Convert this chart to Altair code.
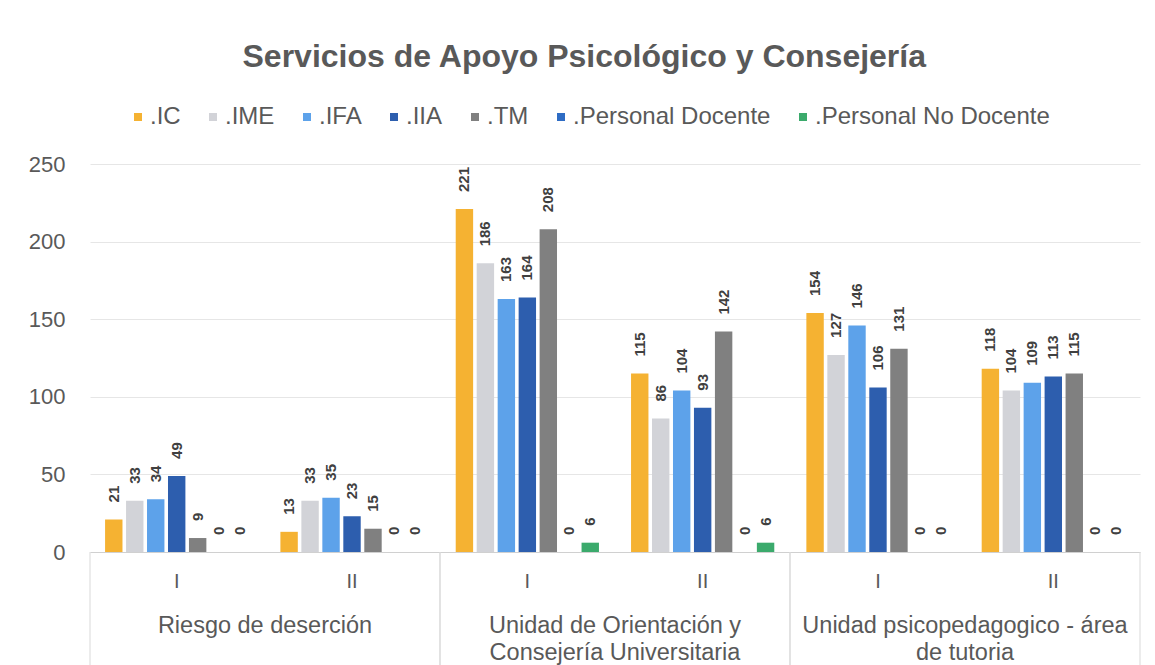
import altair as alt
import pandas as pd

categories = [
    "Riesgo de deserción",
    "Unidad de Orientación y\nConsejería Universitaria",
    "Unidad psicopedagogico - área\nde tutoria",
]
semesters = ["I", "II"]
series = [".IC", ".IME", ".IFA", ".IIA", ".TM", ".Personal Docente", ".Personal No Docente"]
colors = ["#F5B232", "#D2D3D8", "#5DA2EA", "#2D5EAE", "#808080", "#2E6CC4", "#3BAA6C"]

riesgo_I = [21, 33, 34, 49, 9, 0, 0]
riesgo_II = [13, 33, 35, 23, 15, 0, 0]
orientacion_I = [221, 186, 163, 164, 208, 0, 6]
orientacion_II = [115, 86, 104, 93, 142, 0, 6]
psicoped_I = [154, 127, 146, 106, 131, 0, 0]
psicoped_II = [118, 104, 109, 113, 115, 0, 0]

groups = [
    (categories[0], "I", riesgo_I),
    (categories[0], "II", riesgo_II),
    (categories[1], "I", orientacion_I),
    (categories[1], "II", orientacion_II),
    (categories[2], "I", psicoped_I),
    (categories[2], "II", psicoped_II),
]
rows = []
keys = []
for cat, sem, vals in groups:
    key = cat + "|" + sem
    keys.append(key)
    for s, v in zip(series, vals):
        rows.append({"key": key, "cat": cat, "sem": sem, "series": s, "value": v})
df = pd.DataFrame(rows)
df_cat = pd.DataFrame({"cat": categories})

W, H = 1050, 388
TXT = "#595959"

x_scale = alt.Scale(paddingInner=0.183, paddingOuter=0.086)
x_main = alt.X("key:N", sort=keys, title=None, scale=x_scale,
               axis=alt.Axis(labelAngle=0, ticks=False, domain=True, domainColor="#d0d0d0",
                             labelFontSize=20, labelColor=TXT, labelPadding=19, grid=False,
                             labelExpr="split(datum.value, '|')[1]"))
x_plain = alt.X("key:N", sort=keys, title=None, scale=x_scale, axis=None)

base = alt.Chart(df).encode(
    xOffset=alt.XOffset("series:N", sort=series, scale=alt.Scale(paddingInner=0.17, paddingOuter=0)),
    y=alt.Y("value:Q", title=None, scale=alt.Scale(domain=[0, 250]),
            axis=alt.Axis(values=[0, 50, 100, 150, 200, 250], ticks=False, domain=False,
                          labelFontSize=22, labelColor=TXT, labelPadding=25,
                          gridColor="#e6e6e6", minExtent=62, maxExtent=62)),
)

bars = base.mark_bar().encode(
    x=x_main,
    color=alt.Color("series:N", sort=series, title=None,
                    scale=alt.Scale(domain=series, range=colors),
                    legend=alt.Legend(orient="none", direction="horizontal", columns=7,
                                      legendX=36, legendY=-59, symbolType="square",
                                      symbolSize=64, labelFontSize=24, labelColor=TXT,
                                      columnPadding=20, labelOffset=0, symbolStrokeWidth=0,
                                      labelLimit=400)),
)

labels = base.mark_text(angle=270, align="left", baseline="middle", dx=17,
                        fontSize=15, fontWeight="bold", color="#404040").encode(
    x=x_plain,
    text="value:Q",
)

cat_x = alt.Scale(domain=categories, paddingInner=0, paddingOuter=0)
cat_text = alt.Chart(df_cat).mark_text(
    baseline="top", align="center", fontSize=23.5, color=TXT, lineBreak="\n", lineHeight=27
).encode(
    x=alt.X("cat:N", sort=categories, scale=cat_x, axis=None),
    y=alt.value(H + 62),
    text="cat:N",
)
rule_l = alt.Chart(df_cat).mark_rule(color="#d9d9d9").encode(
    x=alt.X("cat:N", sort=categories, scale=cat_x, axis=None, bandPosition=0),
    y=alt.value(H), y2=alt.value(H + 130))
rule_r = alt.Chart(df_cat).mark_rule(color="#d9d9d9").encode(
    x=alt.X("cat:N", sort=categories, scale=cat_x, axis=None, bandPosition=1),
    y=alt.value(H), y2=alt.value(H + 130))

chart = alt.layer(bars, labels, cat_text, rule_l, rule_r).resolve_scale(
    x="independent"
).properties(
    width=W, height=H,
    title=alt.TitleParams("Servicios de Apoyo Psicológico y Consejería", fontSize=32,
                          fontWeight="bold", color=TXT, anchor="middle", frame="bounds",
                          offset=31),
    padding={"left": 20, "top": 33, "right": 5, "bottom": 5},
).configure(font="Liberation Sans").configure_view(stroke=None)

chart.save("out.html", embed_options={"renderer": "svg", "actions": False})
